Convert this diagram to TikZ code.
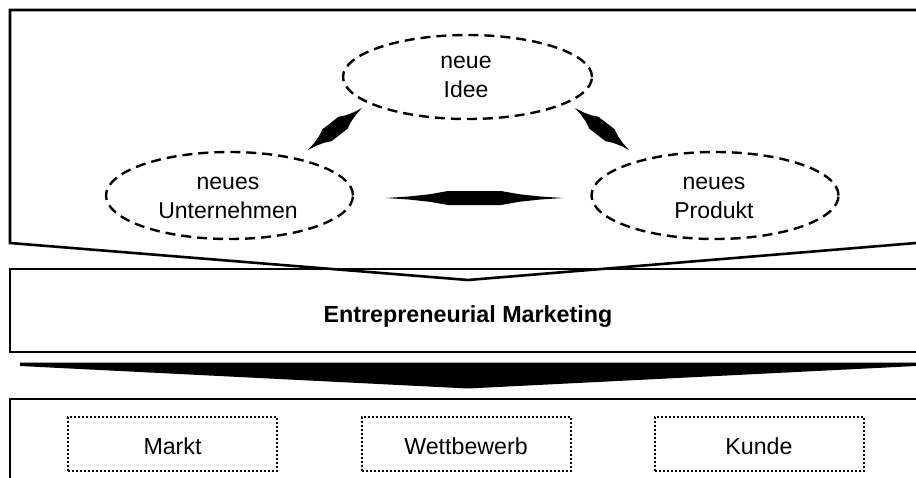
\documentclass[tikz,border=0pt]{standalone}
\usepackage{fontspec}
\setmainfont{Liberation Sans}
\usetikzlibrary{shapes.geometric}
\newcommand\lensshape[2]{(0,0) -- (0.13*#1,0.22*#2) -- (0.25*#1,0.55*#2) -- (0.35*#1,#2) -- (0.65*#1,#2) -- (0.75*#1,0.55*#2) -- (0.87*#1,0.22*#2) -- (#1,0) -- (0.87*#1,-0.22*#2) -- (0.75*#1,-0.55*#2) -- (0.65*#1,-#2) -- (0.35*#1,-#2) -- (0.25*#1,-0.55*#2) -- (0.13*#1,-0.22*#2) -- cycle}
\begin{document}
\begin{tikzpicture}[x=1pt,y=-1pt,
  frame/.style={draw, line width=2.6pt, line join=miter},
  thinframe/.style={draw, line width=2.1pt, line join=miter},
  oval/.style={draw, dash pattern=on 10pt off 6pt, line width=2.4pt, ellipse, inner sep=0pt},
  dotbox/.style={draw, dash pattern=on 2pt off 2pt, line width=2pt, minimum width=209pt, minimum height=54pt, inner sep=0pt, text height=21pt, text depth=0pt, font=\fontsize{23.2}{29}\selectfont},
  lbl/.style={font=\fontsize{23}{29}\selectfont, align=center, anchor=base, inner sep=0pt},
  lens/.style={fill=black}]
\useasboundingbox (0,0) rectangle (916,477);
% top frame with V bottom
\path[frame] (925,10) -- (10,10) -- (10,243) -- (468,280) -- (925,242.26);
% Entrepreneurial Marketing band
\path[thinframe] (925,269) -- (10,269) -- (10,352) -- (925,352);
\node[font=\bfseries\fontsize{23.3}{29}\selectfont, anchor=base, inner sep=0pt] (em) at (468,322) {Entrepreneurial Marketing};
% black wedge
\fill (20,362.5) -- (916,362.5) -- (916,366) -- (468,388.5) -- (20,366) -- cycle;
% bottom frame
\path[thinframe] (925,399) -- (10,399) -- (10,485);
% ellipses
\node[oval, minimum width=249pt, minimum height=84pt] (idee) at (467.5,77) {};
\node[oval, minimum width=247pt, minimum height=87pt] (unt) at (229.5,195.5) {};
\node[oval, minimum width=247pt, minimum height=87pt] (prod) at (715,195.5) {};
\node[lbl] (tidee) at (466,97) {neue\\Idee};
\node[lbl] (tunt) at (228,218) {neues\\Unternehmen};
\node[lbl] (tprod) at (714,218) {neues\\Produkt};
% lens-shaped double arrows
\coordinate (la) at (308,150);
\coordinate (ra) at (575,108);
\coordinate (ha) at (386,198);
\begin{scope}[shift={(la)}, rotate=37.87]
  \fill[lens] \lensshape{68.4}{7.5};
\end{scope}
\begin{scope}[shift={(ra)}, rotate=-37.87]
  \fill[lens] \lensshape{68.4}{7.5};
\end{scope}
\begin{scope}[shift={(ha)}]
  \fill[lens] \lensshape{177}{7};
\end{scope}
% dotted boxes
\node[dotbox] (markt) at (172.5,443.5) {Markt};
\node[dotbox] (wett) at (466,443.5) {Wettbewerb};
\node[dotbox] (kunde) at (759,443.5) {Kunde};
\end{tikzpicture}
\end{document}
